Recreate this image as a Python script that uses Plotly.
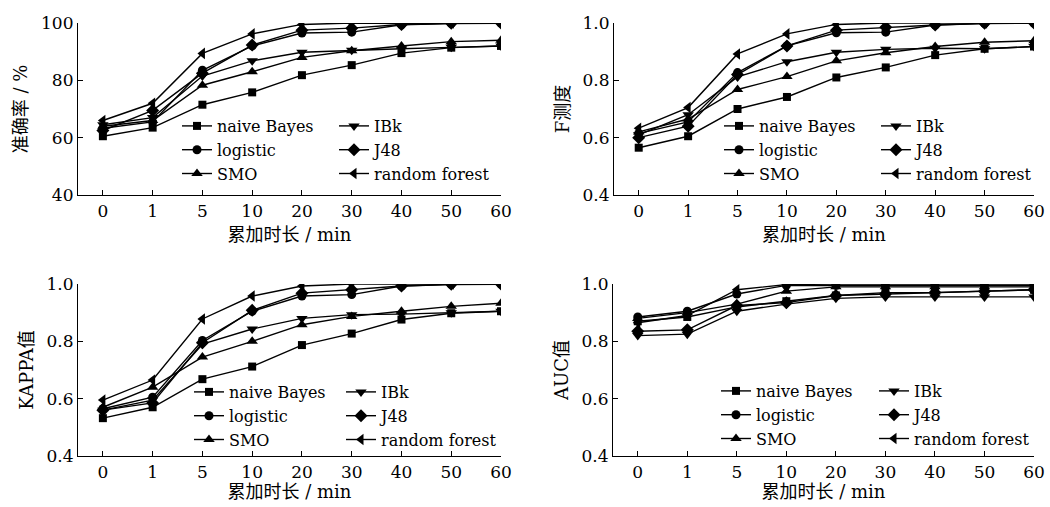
import plotly.graph_objects as go

W, H = 1050, 507

durations = ["0", "1", "5", "10", "20", "30", "40", "50", "60"]
models = ["naive Bayes", "logistic", "SMO", "IBk", "J48", "random forest"]
symbols = ["square", "circle", "triangle-up", "triangle-down", "diamond", "triangle-left"]
marker_sizes = [8, 9, 10, 10, 10, 10]

# 准确率 / %
acc_naive = [60.5, 63.5, 71.5, 75.8, 81.8, 85.3, 89.5, 91.4, 92.0]
acc_logistic = [63.3, 65.5, 83.5, 92.0, 96.5, 96.8, 99.4, 99.8, 99.9]
acc_smo = [64.0, 66.0, 78.3, 83.0, 88.0, 90.3, 92.0, 93.5, 94.0]
acc_ibk = [64.5, 67.0, 81.5, 86.8, 89.8, 90.5, 91.0, 91.5, 92.0]
acc_j48 = [62.5, 69.5, 82.5, 92.3, 97.5, 98.2, 99.5, 99.9, 100.0]
acc_rf = [66.0, 72.0, 89.4, 96.2, 99.5, 100.0, 99.8, 100.0, 100.0]

# F测度
f_naive = [0.565, 0.605, 0.700, 0.742, 0.810, 0.845, 0.888, 0.910, 0.918]
f_logistic = [0.615, 0.655, 0.827, 0.920, 0.966, 0.968, 0.993, 0.998, 0.999]
f_smo = [0.620, 0.665, 0.768, 0.813, 0.868, 0.896, 0.918, 0.933, 0.938]
f_ibk = [0.610, 0.680, 0.812, 0.865, 0.898, 0.908, 0.912, 0.910, 0.918]
f_j48 = [0.600, 0.640, 0.820, 0.920, 0.975, 0.985, 0.993, 0.999, 1.000]
f_rf = [0.633, 0.705, 0.892, 0.962, 0.995, 1.000, 1.000, 1.000, 1.000]

# KAPPA值
k_naive = [0.532, 0.570, 0.668, 0.712, 0.787, 0.827, 0.876, 0.898, 0.905]
k_logistic = [0.565, 0.605, 0.803, 0.905, 0.958, 0.963, 0.993, 0.998, 0.999]
k_smo = [0.570, 0.640, 0.745, 0.800, 0.858, 0.887, 0.905, 0.922, 0.933]
k_ibk = [0.560, 0.595, 0.790, 0.843, 0.880, 0.893, 0.895, 0.900, 0.905]
k_j48 = [0.560, 0.585, 0.795, 0.908, 0.968, 0.980, 0.993, 0.999, 1.000]
k_rf = [0.595, 0.665, 0.878, 0.958, 0.993, 1.000, 1.000, 1.000, 1.000]

# AUC值
auc_naive = [0.870, 0.885, 0.920, 0.940, 0.960, 0.970, 0.970, 0.975, 0.980]
auc_logistic = [0.885, 0.905, 0.965, 0.995, 0.995, 0.995, 0.995, 0.995, 0.995]
auc_smo = [0.880, 0.900, 0.930, 0.975, 0.990, 0.990, 0.990, 0.990, 0.990]
auc_ibk = [0.820, 0.825, 0.905, 0.930, 0.950, 0.955, 0.955, 0.955, 0.955]
auc_j48 = [0.835, 0.840, 0.925, 0.935, 0.960, 0.965, 0.970, 0.975, 0.980]
auc_rf = [0.865, 0.890, 0.980, 0.998, 1.000, 1.000, 1.000, 1.000, 1.000]

panels = [
    dict(series=[acc_naive, acc_logistic, acc_smo, acc_ibk, acc_j48, acc_rf],
         ytitle="准确率 / %", yrange=[40, 100], ticks=[40, 60, 80, 100], fmt=None,
         xpx=(78, 501), ypx=(23, 195), leg1=(177, 109), leg2=(334, 109), xstand=8),
    dict(series=[f_naive, f_logistic, f_smo, f_ibk, f_j48, f_rf],
         ytitle="F测度", yrange=[0.4, 1.0], ticks=[0.4, 0.6, 0.8, 1.0], fmt=".1f",
         xpx=(614, 1034), ypx=(23, 195), leg1=(719, 109), leg2=(876, 109), xstand=8),
    dict(series=[k_naive, k_logistic, k_smo, k_ibk, k_j48, k_rf],
         ytitle="KAPPA值", yrange=[0.4, 1.0], ticks=[0.4, 0.6, 0.8, 1.0], fmt=".1f",
         xpx=(78, 501), ypx=(284, 456), leg1=(189, 375), leg2=(341, 375), xstand=3),
    dict(series=[auc_naive, auc_logistic, auc_smo, auc_ibk, auc_j48, auc_rf],
         ytitle="AUC值", yrange=[0.4, 1.0], ticks=[0.4, 0.6, 0.8, 1.0], fmt=".1f",
         xpx=(613, 1034), ypx=(284, 456), leg1=(716, 374), leg2=(874, 374), xstand=3),
]

FONT = "DejaVu Serif, Noto Sans CJK SC, serif"

fig = go.Figure()
layout = dict(
    width=W, height=H,
    margin=dict(l=0, r=0, t=0, b=0),
    paper_bgcolor="white", plot_bgcolor="white",
    font=dict(family=FONT, color="black", size=17),
)

for pi, p in enumerate(panels):
    n = pi + 1
    xa = "x" if n == 1 else f"x{n}"
    ya = "y" if n == 1 else f"y{n}"
    lega = f"legend{2 * pi + 1}" if pi > 0 else "legend"
    legb = f"legend{2 * pi + 2}"
    for si, (name, vals) in enumerate(zip(models, p["series"])):
        fig.add_trace(go.Scatter(
            x=durations, y=vals, name=name, mode="lines+markers",
            xaxis=xa, yaxis=ya,
            line=dict(color="black", width=1.4),
            marker=dict(symbol=symbols[si], size=marker_sizes[si], color="black"),
            legend=lega if si < 3 else legb,
        ))
    x0, x1 = p["xpx"]
    yt, yb = p["ypx"]
    xkey = "xaxis" if n == 1 else f"xaxis{n}"
    ykey = "yaxis" if n == 1 else f"yaxis{n}"
    layout[xkey] = dict(
        type="category", range=[-0.5, 8], domain=[x0 / W, x1 / W], anchor=ya,
        showline=True, linecolor="black", linewidth=1.2, showgrid=False, zeroline=False,
        ticks="inside", ticklen=5, tickcolor="black", tickwidth=1.2,
        tickfont=dict(size=17, family=FONT),
        title=dict(text="累加时长 / min", font=dict(size=18, family=FONT), standoff=p["xstand"]),
        automargin=False,
    )
    layout[ykey] = dict(
        range=p["yrange"], domain=[(H - yb) / H, (H - yt) / H], anchor=xa,
        showline=True, linecolor="black", linewidth=1.2, showgrid=False, zeroline=False,
        ticks="inside", ticklen=5, tickcolor="black", tickwidth=1.2,
        tickvals=p["ticks"], tickformat=p["fmt"] if p["fmt"] else None,
        tickfont=dict(size=17, family=FONT),
        title=dict(text=p["ytitle"], font=dict(size=18, family=FONT), standoff=8),
        automargin=False,
    )
    for key, (lx, ly) in ((lega, p["leg1"]), (legb, p["leg2"])):
        layout[key] = dict(
            x=lx / W, y=(H - ly) / H, xanchor="left", yanchor="top",
            bgcolor="rgba(0,0,0,0)", borderwidth=0,
            font=dict(size=16, family=FONT), tracegroupgap=0,
            orientation="v",
        )

fig.update_layout(**layout)
fig.write_html(
    "out.html",
    config={"displayModeBar": False},
    post_script="document.body.style.margin='0px';document.body.style.overflow='hidden';",
)
